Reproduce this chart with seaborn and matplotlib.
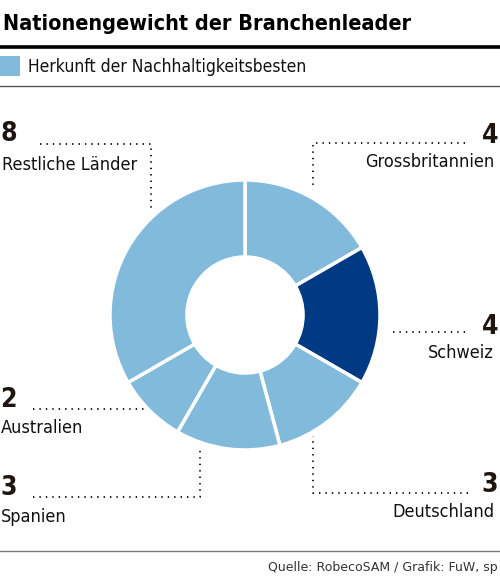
import matplotlib
matplotlib.use("Agg")
import matplotlib.pyplot as plt
import seaborn as sns

# Data
laender = ["Grossbritannien", "Schweiz", "Deutschland", "Spanien", "Australien", "Restliche Länder"]
anzahl = [4, 4, 3, 3, 2, 8]
hervorgehoben = ["Schweiz"]

title = "Nationengewicht der Branchenleader"
legend_text = "Herkunft der Nachhaltigkeitsbesten"
source = "Quelle: RobecoSAM / Grafik: FuW, sp"

sns.set_theme(style="white")
plt.rcParams["font.family"] = ["DejaVu Sans"]
plt.rcParams["font.stretch"] = "condensed"

light = "#82badb"
dark = "#003a84"
ink = "#1e1410"
colors = [dark if l in hervorgehoben else light for l in laender]

W, H = 500, 576
fig = plt.figure(figsize=(W / 100, H / 100), dpi=100)
ax = fig.add_axes([0, 0, 1, 1])

# donut (y axis inverted below, so startangle -90 = top, counterclock = visual clockwise)
cx, cy, r = 245, 315, 135
ax.pie(anzahl, colors=colors, startangle=-90, counterclock=True,
       center=(cx, cy), radius=r,
       wedgeprops=dict(width=r * 0.57, edgecolor="white", linewidth=2.5))

ax.set_xlim(0, W)
ax.set_ylim(H, 0)
ax.set_aspect("auto")
ax.axis("off")

# header
ax.text(3, 24, title, fontsize=15.5, fontweight="bold", color="black", va="center", ha="left")
ax.plot([0, W], [47, 47], color="black", lw=2.6, solid_capstyle="butt")
ax.add_patch(plt.Rectangle((0, 56), 20, 20, color=light, lw=0))
ax.text(28, 67, legend_text, fontsize=12.5, color="#111111", va="center", ha="left")
ax.plot([0, W], [86, 86], color="#555555", lw=1.0)

# footer
ax.plot([0, W], [551, 551], color="#777777", lw=1.0)
ax.text(W - 2, 567, source, fontsize=9, fontstretch="normal", color="#333333",
        va="center", ha="right")

dots = dict(color=ink, lw=1.4, linestyle=(0, (0.7, 2.6)))

# label layout: (number x, number y, name y, align, leader path)
layout = {
    "Restliche Länder": (1, 134, 165, "left", [(40, 144), (151, 144), (151, 210)]),
    "Grossbritannien": (498, 136, 162, "right", [(465, 143), (313, 143), (313, 190)]),
    "Schweiz": (498, 327, 353, "right", [(465, 332), (388, 332)]),
    "Deutschland": (498, 485, 512, "right", [(468, 493), (313, 493), (313, 436)]),
    "Australien": (0, 400, 428, "left", [(33, 409), (145, 409)]),
    "Spanien": (0, 488, 517, "left", [(33, 497), (200, 497), (200, 450)]),
}

for land, wert in zip(laender, anzahl):
    nx, ny, ty, ha, path = layout[land]
    ax.text(nx, ny, str(wert), fontsize=19, fontweight="bold", color=ink,
            va="center", ha=ha)
    tx = nx - 4 if ha == "right" else nx + 1
    ax.text(tx, ty, land, fontsize=13, color="#111111", va="center", ha=ha)
    xs, ys = zip(*path)
    ax.plot(xs, ys, **dots)

fig.savefig("out.png", dpi=100)
